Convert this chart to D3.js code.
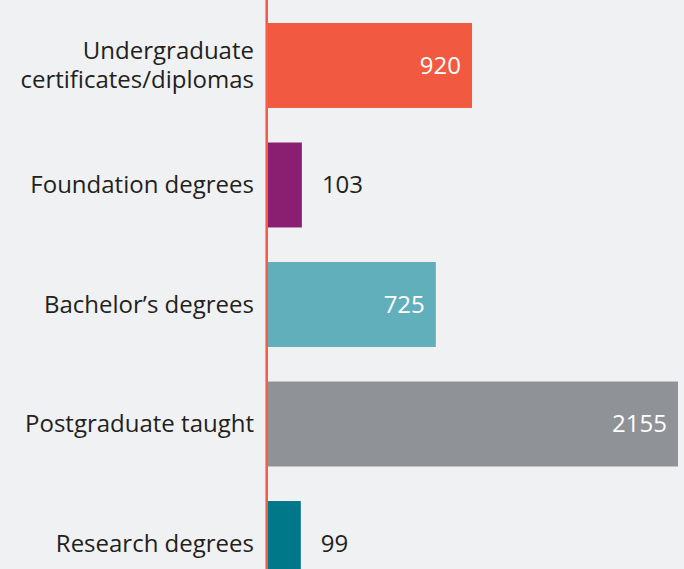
<!DOCTYPE html>
<html>
<head>
<meta charset="utf-8">
<script src="https://cdn.jsdelivr.net/npm/d3@7"></script>
<style>
  html, body { margin: 0; padding: 0; background: #f0f1f3; }
  svg { display: block; }
</style>
</head>
<body>
<div id="chart"></div>
<script>
const categories = [
    ["Undergraduate", "certificates/diplomas"],
    ["Foundation degrees"],
    ["Bachelor\u2019s degrees"],
    ["Postgraduate taught"],
    ["Research degrees"]
];
const values = [920, 103, 725, 2155, 99];
const barColors = ["#f15a40", "#8a1f71", "#62afbc", "#8f9397", "#00788a"];

function drawChart() {
    const W = 684, H = 569;
    const margin = { left: 268, right: 6 };

    const svg = d3.select("#chart")
        .append("svg")
        .attr("width", W)
        .attr("height", H);

    svg.append("rect")
        .attr("width", W)
        .attr("height", H)
        .attr("fill", "#f0f1f3");

    const idx = d3.range(values.length);

    // bars in the original are not strictly proportional
    const x = d3.scalePow()
        .exponent(0.82)
        .domain([0, d3.max(values)])
        .range([margin.left, W - margin.right]);

    const y = d3.scaleBand()
        .domain(idx)
        .range([23, 586])
        .paddingInner(0.289)
        .paddingOuter(0);

    const font = "'Open Sans', 'Noto Sans', sans-serif";

    svg.selectAll(".bar")
        .data(idx)
        .enter()
        .append("rect")
        .attr("class", "bar")
        .attr("x", x(0))
        .attr("y", i => y(i))
        .attr("width", i => x(values[i]) - x(0))
        .attr("height", y.bandwidth())
        .attr("fill", i => barColors[i]);

    // axis line
    svg.append("line")
        .attr("x1", x(0) - 1.3)
        .attr("x2", x(0) - 1.3)
        .attr("y1", 0)
        .attr("y2", H)
        .attr("stroke", "#f15a40")
        .attr("stroke-width", 2.5);

    // value labels
    svg.selectAll(".val")
        .data(idx)
        .enter()
        .append("text")
        .attr("class", "val")
        .attr("x", i => values[i] > 300 ? x(values[i]) - 11 : x(values[i]) + 20)
        .attr("y", i => y(i) + y.bandwidth() / 2)
        .attr("dy", "0.35em")
        .attr("text-anchor", i => values[i] > 300 ? "end" : "start")
        .style("font-family", font)
        .style("font-size", "24px")
        .style("fill", i => values[i] > 300 ? "#ffffff" : "#231f20")
        .text(i => values[i]);

    // category labels
    const lineH = 29;
    const labels = svg.selectAll(".cat")
        .data(idx)
        .enter()
        .append("text")
        .attr("class", "cat")
        .attr("text-anchor", "end")
        .style("font-family", font)
        .style("font-size", "24px")
        .style("fill", "#231f20");

    labels.each(function (i) {
        const lines = categories[i];
        const cy = y(i) + y.bandwidth() / 2;
        const t = d3.select(this);
        lines.forEach((s, k) => {
            t.append("tspan")
                .attr("x", x(0) - 14)
                .attr("y", cy + (k - (lines.length - 1) / 2) * lineH)
                .attr("dy", "0.35em")
                .text(s);
        });
    });
}

window.addEventListener("load", drawChart);
</script>
</body>
</html>
